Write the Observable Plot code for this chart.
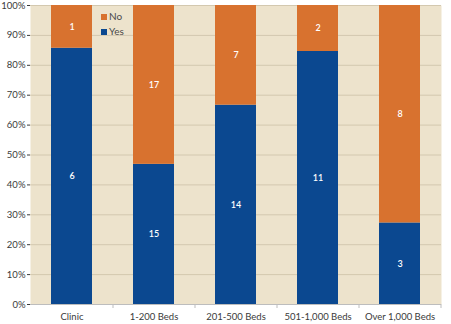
<!DOCTYPE html>
<html>
<head>
<meta charset="utf-8">
<script src="https://cdn.jsdelivr.net/npm/d3@7"></script>
<script src="https://cdn.jsdelivr.net/npm/@observablehq/plot@0.6"></script>
<style>
  html, body { margin: 0; padding: 0; background: #fff; }
  #wrap { position: relative; width: 451px; height: 324px; font-family: Lato, "Open Sans", sans-serif; }
  #legend { position: absolute; left: 101px; top: 9px; font-size: 10px; color: #4a4a4a; line-height: 15px; }
  #legend .sw { display: inline-block; width: 6px; height: 6px; margin-right: 2px; vertical-align: 0px; }
</style>
</head>
<body>
<div id="wrap"><div id="legend"></div></div>
<script>
const categories = ["Clinic", "1-200 Beds", "201-500 Beds", "501-1,000 Beds", "Over 1,000 Beds"];
const yesValues = [6, 15, 14, 11, 3];
const noValues = [1, 17, 7, 2, 8];
const seriesNames = ["No", "Yes"];
const seriesColors = ["#d8722f", "#0b4890"];
const yTicks = [0, 0.1, 0.2, 0.3, 0.4, 0.5, 0.6, 0.7, 0.8, 0.9, 1];

const data = [];
categories.forEach((c, i) => {
  data.push({cat: c, answer: "Yes", count: yesValues[i]});
  data.push({cat: c, answer: "No", count: noValues[i]});
});

const stackOpts = {x: "cat", y: "count", z: "answer", offset: "normalize", order: ["Yes", "No"]};

const chart = Plot.plot({
  width: 451,
  height: 324,
  marginLeft: 30,
  marginRight: 10,
  marginTop: 5,
  marginBottom: 20,
  style: {fontFamily: "Lato, 'Open Sans', sans-serif", fontSize: "9.5px", color: "#3a3a3a", background: "#fff"},
  x: {domain: categories, label: null, paddingInner: 0.5, paddingOuter: 0.25, tickSize: 0, tickPadding: 9},
  y: {domain: [0, 1], ticks: yTicks, tickFormat: d => Math.round(d * 100) + "%", label: null, tickSize: 3, tickPadding: 2},
  color: {domain: seriesNames, range: seriesColors},
  marks: [
    Plot.frame({fill: "#ede3cc", stroke: null}),
    Plot.gridY(yTicks, {stroke: "#d3c8af", strokeOpacity: 1, strokeWidth: 1}),
    Plot.barY(data, Plot.stackY({...stackOpts, fill: "answer"})),
    Plot.text(data, Plot.stackY({...stackOpts, text: "count", fill: "white", fontSize: 9, fontWeight: 600})),
    Plot.ruleY([0], {stroke: "#bdbdbd"}),
    Plot.ruleX([0], {frameAnchor: "left", stroke: "#c9c9c9", insetBottom: -4}),
    Plot.ruleX(categories, {x: d => d, dx: 41, y1: 0, y2: 0, insetBottom: -4, stroke: "#bdbdbd"})
  ]
});
document.getElementById("wrap").prepend(chart);

const legend = document.getElementById("legend");
seriesNames.forEach((n, i) => {
  const row = document.createElement("div");
  row.innerHTML = `<span class="sw" style="background:${seriesColors[i]}"></span>${n}`;
  legend.appendChild(row);
});
</script>
</body>
</html>
